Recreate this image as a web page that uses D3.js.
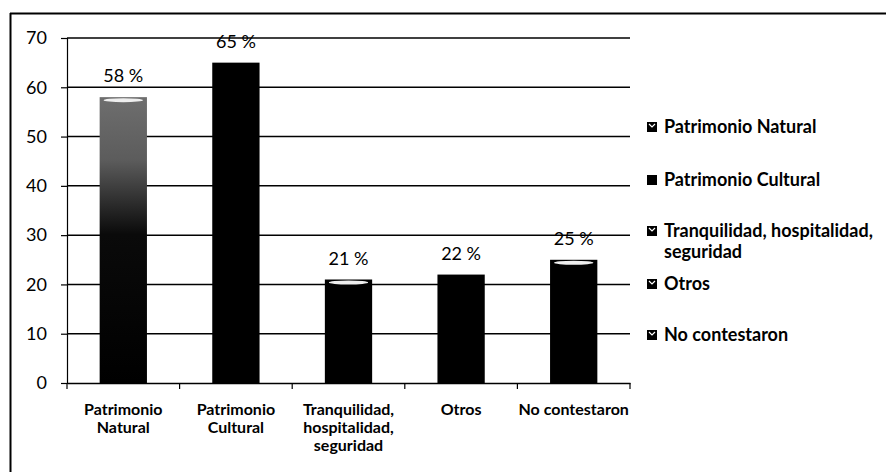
<!DOCTYPE html>
<html>
<head>
<meta charset="utf-8">
<style>
  body { margin: 0; background: #fff; }
  svg { display: block; font-family: Lato, "Open Sans", sans-serif; }
</style>
</head>
<body>
<script src="https://cdn.jsdelivr.net/npm/d3@7"></script>
<script>
const categories = ["Patrimonio Natural", "Patrimonio Cultural", "Tranquilidad, hospitalidad, seguridad", "Otros", "No contestaron"];
const axisLabels = [["Patrimonio", "Natural"], ["Patrimonio", "Cultural"], ["Tranquilidad,", "hospitalidad,", "seguridad"], ["Otros"], ["No contestaron"]];
const values = [58, 65, 21, 22, 25];
const valueLabels = ["58 %", "65 %", "21 %", "22 %", "25 %"];
const legendLabels = [["Patrimonio Natural"], ["Patrimonio Cultural"], ["Tranquilidad, hospitalidad,", "seguridad"], ["Otros"], ["No contestaron"]];
const yTicks = [0, 10, 20, 30, 40, 50, 60, 70];

const width = 886, height = 472;
const margin = { left: 67, top: 38, right: 256, bottom: 89 };

const svg = d3.select("body").append("svg")
  .attr("width", width)
  .attr("height", height);

// outer frame (only top and left edges show)
svg.append("line").attr("x1", 10).attr("x2", width).attr("y1", 13.5).attr("y2", 13.5)
  .attr("stroke", "#000").attr("stroke-width", 2);
svg.append("line").attr("x1", 10.5).attr("x2", 10.5).attr("y1", 13).attr("y2", height)
  .attr("stroke", "#000").attr("stroke-width", 2);

const x = d3.scaleBand()
  .domain(categories)
  .range([margin.left, width - margin.right])
  .paddingInner(0.58)
  .paddingOuter(0.29);

const y = d3.scaleLinear()
  .domain([0, 70])
  .range([height - margin.bottom, margin.top]);

const grad = svg.append("defs").append("linearGradient")
  .attr("id", "natGrad").attr("x1", 0).attr("x2", 0).attr("y1", 0).attr("y2", 1);
grad.append("stop").attr("offset", "0%").attr("stop-color", "#6e6e6e");
grad.append("stop").attr("offset", "22%").attr("stop-color", "#5c5c5c");
grad.append("stop").attr("offset", "48%").attr("stop-color", "#0a0a0a");
grad.append("stop").attr("offset", "100%").attr("stop-color", "#000");

// gridlines
svg.append("g")
  .selectAll("line")
  .data(yTicks.slice(1))
  .join("line")
  .attr("x1", margin.left)
  .attr("x2", width - margin.right)
  .attr("y1", d => y(d))
  .attr("y2", d => y(d))
  .attr("stroke", "#000")
  .attr("stroke-width", 1.5);

// y axis
const yAxis = svg.append("g")
  .attr("transform", `translate(${margin.left},0)`)
  .call(d3.axisLeft(y).tickValues(yTicks).tickSize(6).tickPadding(14));
yAxis.select(".domain").attr("stroke", "#000").attr("stroke-width", 1.2);
yAxis.selectAll(".tick line").attr("stroke", "#000").attr("stroke-width", 1.2);
yAxis.selectAll("text").attr("font-size", 18).attr("font-family", "Lato").attr("fill", "#000");

// x axis
const xAxis = svg.append("g")
  .attr("transform", `translate(0,${y(0)})`)
  .call(d3.axisBottom(x).tickSize(0).tickFormat(""));
xAxis.select(".domain").attr("stroke", "#000").attr("stroke-width", 1.5);
const step = x.step();
xAxis.selectAll(".sep")
  .data(d3.range(categories.length + 1))
  .join("line")
  .attr("class", "sep")
  .attr("x1", i => margin.left + i * step)
  .attr("x2", i => margin.left + i * step)
  .attr("y1", 0).attr("y2", 6)
  .attr("stroke", "#000").attr("stroke-width", 1.2);

// category labels, one text per line
const catLines = categories.flatMap((c, i) => axisLabels[i].map((t, j) => ({ c, t, j })));
svg.append("g")
  .selectAll("text")
  .data(catLines)
  .join("text")
  .attr("x", d => x(d.c) + x.bandwidth() / 2)
  .attr("y", d => y(0) + 32 + d.j * 18)
  .attr("text-anchor", "middle")
  .attr("font-size", 16)
  .attr("font-weight", 700)
  .attr("fill", "#000")
  .text(d => d.t);

// bars
svg.append("g")
  .selectAll("rect")
  .data(categories)
  .join("rect")
  .attr("x", d => x(d))
  .attr("width", x.bandwidth())
  .attr("y", (d, i) => y(values[i]))
  .attr("height", (d, i) => y(0) - y(values[i]))
  .attr("fill", (d, i) => i === 0 ? "url(#natGrad)" : "#000");

// top highlights
svg.append("g")
  .selectAll("ellipse")
  .data(categories.filter((d, i) => i !== 1 && i !== 3))
  .join("ellipse")
  .attr("cx", d => x(d) + x.bandwidth() / 2)
  .attr("cy", d => y(values[categories.indexOf(d)]) + 3)
  .attr("rx", x.bandwidth() / 2 - 4)
  .attr("ry", 2)
  .attr("fill", "#eee");

// value labels
svg.append("g")
  .selectAll("text")
  .data(categories)
  .join("text")
  .attr("x", d => x(d) + x.bandwidth() / 2)
  .attr("y", (d, i) => y(values[i]) - 15)
  .attr("text-anchor", "middle")
  .attr("font-size", 18)
  .attr("fill", "#000")
  .text((d, i) => valueLabels[i]);

// legend
const legendY = [128, 181, 232, 285, 336];
const legend = svg.append("g")
  .selectAll("g")
  .data(categories)
  .join("g")
  .attr("transform", (d, i) => `translate(647,${legendY[i]})`);
legend.append("rect")
  .attr("x", 0).attr("y", -6)
  .attr("width", 10).attr("height", 10)
  .attr("fill", "#000");
legend.filter((d, i) => i !== 1).append("path")
  .attr("d", "M2,-4 L5,-1 L8,-4")
  .attr("fill", "none").attr("stroke", "#fff").attr("stroke-width", 1.2);
const legLines = legendLabels.flatMap((lines, i) => lines.map((t, j) => ({ i, t, j })));
svg.append("g")
  .selectAll("text")
  .data(legLines)
  .join("text")
  .attr("x", 664)
  .attr("y", d => legendY[d.i] + 5 + d.j * 21)
  .attr("font-size", 18)
  .attr("font-weight", 700)
  .attr("fill", "#000")
  .text(d => d.t);
</script>
</body>
</html>
